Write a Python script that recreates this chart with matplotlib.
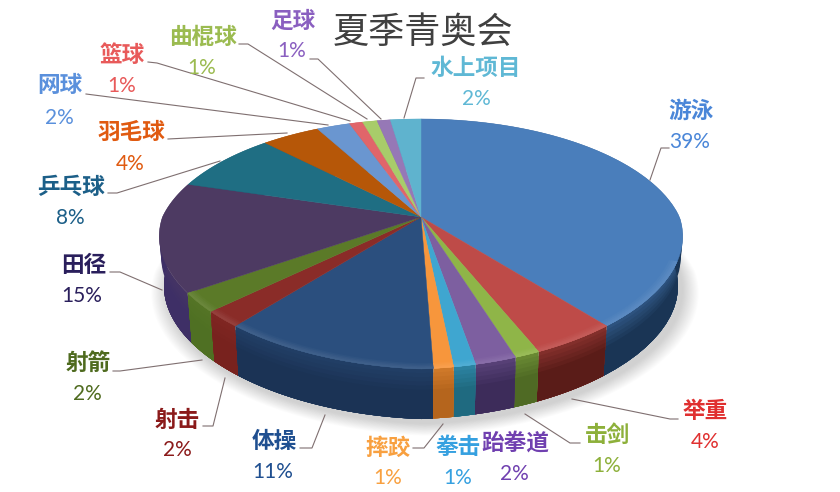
import numpy as np
import matplotlib
matplotlib.use('Agg')
import matplotlib.pyplot as plt
from matplotlib.colors import to_rgb

titulo = "夏季青奥会"

# dados, no sentido horario a partir do topo
esportes = ["游泳", "举重", "击剑", "跆拳道", "拳击", "摔跤", "体操", "射击", "射箭",
            "田径", "乒乓球", "羽毛球", "网球", "篮球", "曲棍球", "足球", "水上项目"]
rotulos = ["39%", "4%", "1%", "2%", "1%", "1%", "11%", "2%", "2%",
           "15%", "8%", "4%", "2%", "1%", "1%", "1%", "2%"]
# fatias (antes do arredondamento dos rotulos)
fatias = [39.4, 4.5, 1.3, 2.1, 1.1, 1.0, 11.2, 2.1, 2.5,
          14.5, 8.05, 4.35, 2.5, 1.0, 1.1, 1.0, 2.3]

cores_topo = ["#4A7EBB", "#BE4B48", "#8FB548", "#7D5FA0", "#3FA6D0", "#F7963C", "#2B4F7E",
              "#8A2C28", "#5B7A28", "#4D3A62", "#1F6E83", "#B65708", "#6A96D0",
              "#E0656A", "#A8CC6A", "#9678B6", "#5FB3CE"]
cores_lado = ["#1A3555", "#5A1C18", "#4F6A24", "#3D2C5A", "#1F6A80", "#B5651D", "#1B3355",
              "#78221E", "#4F7023", "#3E2F66", "#154E5E", "#7E3C06", "#3F6599",
              "#9C4145", "#74903F", "#66507F", "#3F8199"]
cores_texto = ["#4A86D8", "#E03030", "#8DB03A", "#7040B0", "#35A0E0", "#F8A040", "#1F4F90",
               "#8B1A1A", "#4F6B1F", "#2A1F5C", "#1C5F88", "#E05A10", "#5A90DC",
               "#E85A5A", "#9BBB50", "#8A5FC0", "#5FB8D5"]

# layout em pixels: nome (x, y), y do percentual
pos_nome = [(691, 111), (705, 411), (607, 435), (515, 443), (458, 447), (388, 448), (274, 441),
            (177, 420), (88, 363), (84, 265), (71, 187), (131, 132), (60, 86),
            (122, 55), (203, 37), (293, 21), (476, 68)]
pos_pct = [(690, 142), (705, 442), (607, 466), (514, 474), (458, 478), (388, 478), (273, 472),
           (177, 450), (87, 394), (82, 296), (70, 218), (130, 164), (59, 118),
           (122, 86), (202, 68), (292, 51), (476, 99)]

guias = [[(650, 180), (661, 148), (669, 148)],
         [(572, 399), (670, 419), (678, 419)],
         [(525, 414), (570, 443), (580, 443)],
         [(443, 424), (424, 448), (413, 448)],
         [(325, 415), (312, 448), (300, 448)],
         [(225, 378), (213, 426), (203, 426)],
         [(202, 360), (120, 371), (113, 371)],
         [(162, 290), (120, 272), (110, 272)],
         [(220, 161), (117, 193), (108, 193)],
         [(287, 133), (168, 139)],
         [(328, 125), (86, 94)],
         [(350, 121), (157, 63), (148, 62)],
         [(367, 119), (248, 44), (239, 44)],
         [(381, 119), (318, 59), (310, 59)],
         [(404, 118), (416, 78), (424, 78)]]

# geometria da pizza em perspectiva
CX, CY = 421, 217
A, B, K = 258.5, 119.2, 0.216
ALTURA = 50


def projeta(theta, r=1.0, prof=0.0):
    # theta em graus, horario a partir do topo
    t = np.radians(theta)
    # borda da frente um pouco recolhida nas diagonais
    r = r * (1 - 0.06 * np.abs(np.sin(t)) * np.maximum(-np.cos(t), 0))
    u, v = r * np.sin(t), r * np.cos(t)
    esc = 1 - 0.018 * prof / ALTURA
    d = 1 + K * v
    return CX + esc * A * u / d, CY - B * v / d + prof


def mistura(c1, c2, f):
    a, b = np.array(to_rgb(c1)), np.array(to_rgb(c2))
    return tuple(a + (b - a) * f)


def main():
    plt.rcParams['font.family'] = ['Noto Sans CJK SC', 'DejaVu Sans']
    fig = plt.figure(figsize=(8.4, 4.92), dpi=100)
    fig.patch.set_facecolor('white')
    ax = fig.add_axes([0, 0, 1, 1])
    ax.set_xlim(0, 840)
    ax.set_ylim(492, 0)
    ax.axis('off')

    angulos = np.concatenate([[0], np.cumsum(fatias)]) / sum(fatias) * 360

    # sombra
    circulo = np.linspace(0, 360, 361)
    for i in range(16):
        x, y = projeta(circulo, 1.0 + 0.004 * (16 - i), 54)
        ax.fill(x + 4, y, color='#808080', alpha=0.022, lw=0, zorder=1)

    # paredes, de tras para frente; cada faixa cobre ate o fundo para nao deixar emenda
    ordem = np.argsort([projeta((angulos[i] + angulos[i + 1]) / 2)[1] for i in range(len(fatias))])
    for i in ordem:
        th = np.linspace(angulos[i], angulos[i + 1], 40)
        n = 6
        x1, y1 = projeta(th, 1.0, ALTURA)
        for j in range(n):
            x0, y0 = projeta(th, 1.0, ALTURA * 0.5 * j / n)
            cor = mistura(mistura(cores_lado[i], cores_topo[i], 0.4), cores_lado[i], j / (n - 1))
            ax.fill(np.r_[x0, x1[::-1]], np.r_[y0, y1[::-1]], color=cor, lw=0, zorder=2)

    # topo
    for i in range(len(fatias)):
        th = np.linspace(angulos[i], angulos[i + 1], 60)
        x, y = projeta(th)
        ax.fill(np.r_[CX, x], np.r_[CY, y], color=cores_topo[i], lw=0.3, zorder=3)

        # chanfro claro na borda da frente
        frente = th[(th > 110) & (th < 235)]
        if len(frente) > 1:
            xb, yb = projeta(frente, 1.0)
            for j in range(4):
                xa, ya = projeta(frente, 0.97 + 0.0075 * j)
                cor = mistura(cores_topo[i], '#FFFFFF', 0.02 + 0.025 * j)
                ax.fill(np.r_[xa, xb[::-1]], np.r_[ya, yb[::-1]], color=cor, lw=0, zorder=4)

    # linhas guia
    for g in guias:
        ax.plot([p[0] for p in g], [p[1] for p in g], color='#7F6F70', lw=0.8, zorder=5)

    # textos
    for i, nome in enumerate(esportes):
        ax.text(pos_nome[i][0], pos_nome[i][1], nome, color=cores_texto[i], fontsize=16.3,
                fontweight='bold', ha='center', va='center', zorder=6)
        ax.text(pos_pct[i][0], pos_pct[i][1], rotulos[i], color=cores_texto[i], fontsize=15,
                family=['Lato', 'DejaVu Sans'], ha='center', va='center', zorder=6)

    ax.text(423, 33, titulo, color='#404040', fontsize=26, ha='center', va='center', zorder=6)

    fig.savefig('out.png', dpi=100)


if __name__ == "__main__":
    main()
